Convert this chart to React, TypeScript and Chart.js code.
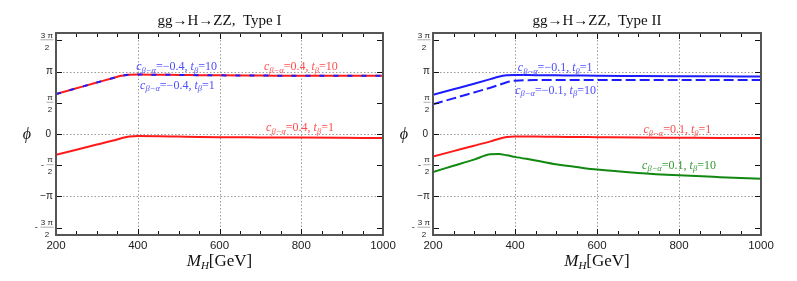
import React, { useEffect, useRef } from "react";
import { Chart, registerables } from "chart.js";
Chart.register(...registerables);

const PI = Math.PI;

// Higgs mass grid (GeV)
const massGeV = [200, 250, 300, 340, 360, 380, 400, 450, 500, 550, 600, 700, 800, 900, 1000];

// Type I phases (rad)
const typeI_upper = [2.01, 2.30, 2.59, 2.82, 2.93, 2.98, 2.99, 2.98, 2.97, 2.96, 2.95, 2.94, 2.93, 2.93, 2.93];
const typeI_lower = [-1.05, -0.79, -0.53, -0.33, -0.21, -0.12, -0.10, -0.11, -0.13, -0.15, -0.16, -0.17, -0.18, -0.19, -0.20];

// Type II phases (rad)
const typeII_cm01_t1 = [1.97, 2.25, 2.53, 2.76, 2.88, 2.95, 2.97, 2.96, 2.95, 2.94, 2.93, 2.92, 2.91, 2.90, 2.89];
const typeII_cm01_t10 = [1.50, 1.79, 2.09, 2.33, 2.46, 2.60, 2.68, 2.71, 2.71, 2.71, 2.71, 2.71, 2.71, 2.71, 2.71];
const typeII_cp01_t1 = [-1.13, -0.86, -0.59, -0.37, -0.25, -0.15, -0.12, -0.13, -0.14, -0.15, -0.16, -0.18, -0.19, -0.20, -0.20];
const typeII_cp01_t10 = [-1.91, -1.60, -1.29, -1.02, -1.01, -1.07, -1.15, -1.33, -1.52, -1.66, -1.79, -1.96, -2.08, -2.17, -2.25];

// Axes
const xMin = 200;
const xMax = 1000;
const xTickValues = [200, 400, 600, 800, 1000];
const xMinorStep = 50;
const xGridValues = [400, 600, 800];
const yTickHalfPis = [-3, -2, -1, 0, 1, 2, 3];
const yGridHalfPis = [-2, 0, 2];
const yLimit = 5.08;

const RED = "#ff1a1a";
const BLUE = "#1c1cff";
const GREEN = "#118811";
const RED_TXT = "#ff4d4d";
const BLUE_TXT = "#4d4dff";
const GREEN_TXT = "#339933";

const SERIF = '"Liberation Serif", "DejaVu Serif", serif';
const SANS = '"Liberation Sans", Arial, sans-serif';

type Note = { c: string; t: string; x: number; y: number; color: string };
type Series = { values: number[]; color: string; dash?: number[] };

function drawRich(ctx: CanvasRenderingContext2D, parts: { text: string; font: string; dy?: number }[], cx: number, baseline: number, color: string) {
  let total = 0;
  for (const p of parts) {
    ctx.font = p.font;
    total += ctx.measureText(p.text).width;
  }
  let x = cx - total / 2;
  ctx.fillStyle = color;
  ctx.textAlign = "left";
  ctx.textBaseline = "alphabetic";
  for (const p of parts) {
    ctx.font = p.font;
    ctx.fillText(p.text, x, baseline + (p.dy || 0));
    x += ctx.measureText(p.text).width;
  }
}

function couplingParts(c: string, t: string) {
  const big = `12px ${SERIF}`;
  const bigI = `italic 12px ${SERIF}`;
  const subI = `italic 8.5px ${SERIF}`;
  return [
    { text: "c", font: bigI },
    { text: "β−α", font: subI, dy: 2.5 },
    { text: `=${c}, `, font: big },
    { text: "t", font: bigI },
    { text: "β", font: subI, dy: 2.5 },
    { text: `=${t}`, font: big },
  ];
}

function drawYLabel(ctx: CanvasRenderingContext2D, k: number, right: number, py: number) {
  const a = Math.abs(k);
  const neg = k < 0;
  ctx.fillStyle = "#222";
  ctx.textBaseline = "middle";
  if (a === 0) {
    ctx.font = `10px ${SANS}`;
    ctx.textAlign = "right";
    ctx.fillText("0", right - 2, py);
  } else if (a === 2) {
    ctx.font = `10px ${SANS}`;
    ctx.textAlign = "right";
    ctx.fillText(neg ? "−π" : "π", right, py);
  } else {
    const num = a === 3 ? "3 π" : "π";
    ctx.font = `8px ${SANS}`;
    const w = Math.max(ctx.measureText(num).width, 6);
    const cx = right - w / 2;
    ctx.textAlign = "center";
    ctx.fillText(num, cx, py - 5);
    ctx.fillText("2", cx, py + 7);
    ctx.strokeStyle = "#999";
    ctx.lineWidth = 0.8;
    ctx.beginPath();
    ctx.moveTo(right - w - 0.5, py - 0.5);
    ctx.lineTo(right + 0.5, py - 0.5);
    ctx.stroke();
    if (neg) {
      ctx.font = `9px ${SANS}`;
      ctx.textAlign = "right";
      ctx.fillText("-", right - w - 3, py);
    }
  }
}

function makeDecor(title: string, notes: Note[]) {
  return {
    id: "phaseDecor",
    beforeDatasetsDraw(chart: any) {
      const { ctx, chartArea: ar, scales } = chart;
      const x = scales.x;
      const y = scales.y;
      ctx.save();
      ctx.strokeStyle = "#9a9a9a";
      ctx.lineWidth = 1;
      ctx.setLineDash([1.5, 2]);
      for (const v of xGridValues) {
        const px = Math.round(x.getPixelForValue(v)) + 0.5;
        ctx.beginPath();
        ctx.moveTo(px, ar.top);
        ctx.lineTo(px, ar.bottom);
        ctx.stroke();
      }
      for (const k of yGridHalfPis) {
        const py = Math.round(y.getPixelForValue((k * PI) / 2)) + 0.5;
        ctx.beginPath();
        ctx.moveTo(ar.left, py);
        ctx.lineTo(ar.right, py);
        ctx.stroke();
      }
      ctx.restore();
    },
    afterDatasetsDraw(chart: any) {
      const { ctx, scales } = chart;
      ctx.save();
      for (const n of notes) {
        drawRich(ctx, couplingParts(n.c, n.t), scales.x.getPixelForValue(n.x), scales.y.getPixelForValue(n.y), n.color);
      }
      ctx.restore();
    },
    afterDraw(chart: any) {
      const { ctx, chartArea: ar, scales } = chart;
      const x = scales.x;
      const y = scales.y;
      ctx.save();
      // ticks (inward)
      ctx.strokeStyle = "#111";
      ctx.lineWidth = 1;
      for (let v = xMin; v <= xMax; v += xMinorStep) {
        const px = Math.round(x.getPixelForValue(v)) + 0.5;
        const len = v % 200 === 0 ? 6 : 4;
        ctx.beginPath();
        ctx.moveTo(px, ar.bottom);
        ctx.lineTo(px, ar.bottom - len);
        ctx.moveTo(px, ar.top);
        ctx.lineTo(px, ar.top + len);
        ctx.stroke();
      }
      for (const k of yTickHalfPis) {
        const py = Math.round(y.getPixelForValue((k * PI) / 2)) + 0.5;
        ctx.beginPath();
        ctx.moveTo(ar.left, py);
        ctx.lineTo(ar.left + 6, py);
        ctx.moveTo(ar.right, py);
        ctx.lineTo(ar.right - 6, py);
        ctx.stroke();
      }
      // frame
      ctx.strokeStyle = "#555";
      ctx.lineWidth = 2;
      ctx.strokeRect(ar.left, ar.top, ar.right - ar.left, ar.bottom - ar.top);
      // x tick labels
      ctx.fillStyle = "#222";
      ctx.font = `11.5px ${SANS}`;
      ctx.textAlign = "center";
      ctx.textBaseline = "middle";
      for (const v of xTickValues) {
        ctx.fillText(String(v), x.getPixelForValue(v), ar.bottom + 11);
      }
      // y tick labels
      for (const k of yTickHalfPis) {
        drawYLabel(ctx, k, ar.left - 3, y.getPixelForValue((k * PI) / 2));
      }
      // x axis title
      const cx = (ar.left + ar.right) / 2;
      drawRich(
        ctx,
        [
          { text: "M", font: `italic 17px ${SERIF}` },
          { text: "H", font: `italic 11px ${SERIF}`, dy: 3 },
          { text: "[GeV]", font: `17px ${SERIF}` },
        ],
        cx,
        ar.bottom + 31,
        "#111"
      );
      // y axis title
      ctx.fillStyle = "#111";
      ctx.font = `italic 16px ${SERIF}`;
      ctx.textAlign = "center";
      ctx.textBaseline = "middle";
      ctx.fillText("ϕ", ar.left - 29, (ar.top + ar.bottom) / 2 + 1);
      // title
      ctx.font = `15px ${SERIF}`;
      ctx.textBaseline = "alphabetic";
      ctx.fillText(title, cx, 25);
      ctx.restore();
    },
  };
}

function Panel(props: {
  left: number;
  width: number;
  padding: { left: number; right: number; top: number; bottom: number };
  title: string;
  series: Series[];
  notes: Note[];
}) {
  const ref = useRef<HTMLCanvasElement>(null);
  useEffect(() => {
    const chart = new Chart(ref.current as HTMLCanvasElement, {
      type: "line",
      data: {
        datasets: props.series.map((s) => ({
          data: massGeV.map((m, i) => ({ x: m, y: s.values[i] })),
          borderColor: s.color,
          borderWidth: 2,
          borderDash: s.dash || [],
          pointRadius: 0,
          fill: false,
          cubicInterpolationMode: "monotone" as const,
        })),
      },
      options: {
        responsive: false,
        animation: false,
        devicePixelRatio: 1,
        events: [],
        layout: { padding: props.padding },
        plugins: { legend: { display: false }, tooltip: { enabled: false }, title: { display: false } },
        scales: {
          x: { type: "linear", min: xMin, max: xMax, display: false },
          y: { type: "linear", min: -yLimit, max: yLimit, display: false },
        },
      },
      plugins: [makeDecor(props.title, props.notes)],
    } as any);
    return () => chart.destroy();
  }, []);
  return (
    <canvas
      ref={ref}
      width={props.width}
      height={281}
      style={{ position: "absolute", left: props.left, top: 0, width: props.width, height: 281 }}
    />
  );
}

const typeINotes: Note[] = [
  { c: "−0.4", t: "10", x: 495, y: 3.21, color: BLUE_TXT },
  { c: "−0.4", t: "1", x: 497, y: 2.28, color: BLUE_TXT },
  { c: "0.4", t: "10", x: 799, y: 3.21, color: RED_TXT },
  { c: "0.4", t: "1", x: 797, y: 0.13, color: RED_TXT },
];

const typeIINotes: Note[] = [
  { c: "−0.1", t: "1", x: 498, y: 3.16, color: BLUE_TXT },
  { c: "−0.1", t: "10", x: 499, y: 2.03, color: BLUE_TXT },
  { c: "0.1", t: "1", x: 796, y: 0.03, color: RED_TXT },
  { c: "0.1", t: "10", x: 800, y: -1.75, color: GREEN_TXT },
];

const typeISeries: Series[] = [
  { values: typeI_upper, color: BLUE, dash: [5, 9] },
  { values: typeI_upper, color: RED },
  { values: typeI_lower, color: RED },
];

const typeIISeries: Series[] = [
  { values: typeII_cm01_t1, color: BLUE },
  { values: typeII_cm01_t10, color: BLUE, dash: [10, 4] },
  { values: typeII_cp01_t1, color: RED },
  { values: typeII_cp01_t10, color: GREEN },
];

export default function App() {
  return (
    <div style={{ position: "fixed", left: 0, top: 0, width: 797, height: 281, background: "#fff" }}>
      <Panel
        left={0}
        width={400}
        padding={{ left: 56, right: 17, top: 33, bottom: 46 }}
        title={"gg→H→ZZ,  Type I"}
        series={typeISeries}
        notes={typeINotes}
      />
      <Panel
        left={400}
        width={397}
        padding={{ left: 33, right: 36, top: 33, bottom: 46 }}
        title={"gg→H→ZZ,  Type II"}
        series={typeIISeries}
        notes={typeIINotes}
      />
    </div>
  );
}
